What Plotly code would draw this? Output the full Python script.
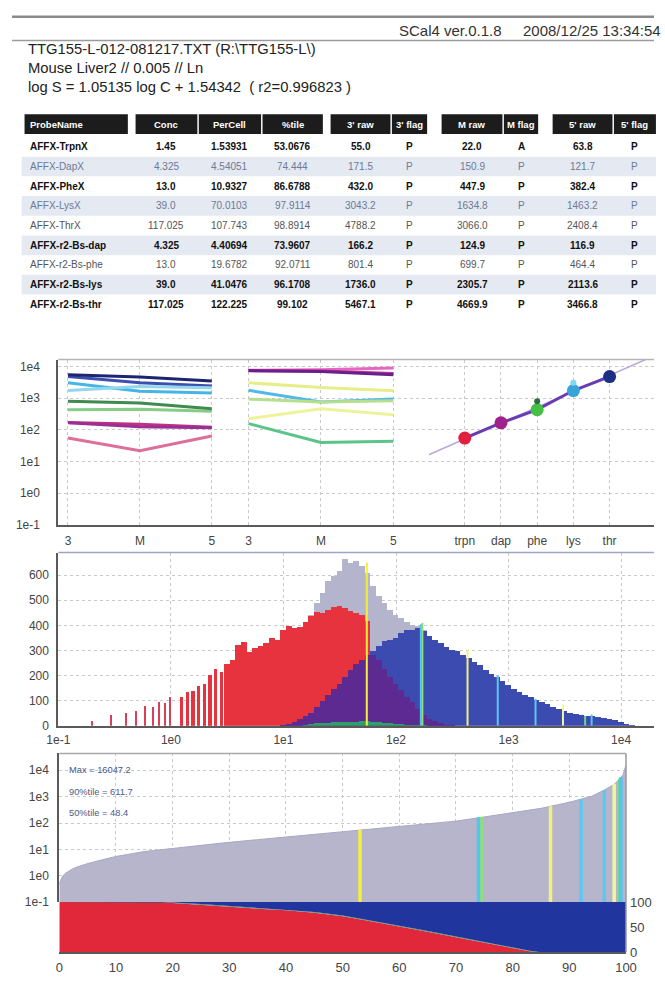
import numpy as np
import plotly.graph_objects as go

W, H = 665, 982
def X(px): return px / W
def Y(py): return 1 - py / H

# ---------------- header text ----------------
report_version = "SCal4 ver.0.1.8"
report_time = "2008/12/25 13:34:54"
file_line = "TTG155-L-012-081217.TXT (R:\\TTG155-L\\)"
sample_line = "Mouse Liver2 // 0.005 // Ln"
fit_slope = 1.05135
fit_intercept = 1.54342
fit_r2 = 0.996823

# ---------------- table ----------------
header_cols = ["ProbeName", "Conc", "PerCell", "%tile", "3' raw", "3' flag",
               "M raw", "M flag", "5' raw", "5' flag"]
probe_names = ["AFFX-TrpnX", "AFFX-DapX", "AFFX-PheX", "AFFX-LysX", "AFFX-ThrX",
               "AFFX-r2-Bs-dap", "AFFX-r2-Bs-phe", "AFFX-r2-Bs-lys", "AFFX-r2-Bs-thr"]
conc = ["1.45", "4.325", "13.0", "39.0", "117.025", "4.325", "13.0", "39.0", "117.025"]
percell = ["1.53931", "4.54051", "10.9327", "70.0103", "107.743", "4.40694", "19.6782", "41.0476", "122.225"]
pctile = [53.0676, 74.444, 86.6788, 97.9114, 98.8914, 73.9607, 92.0711, 96.1708, 99.102]
raw3 = [55.0, 171.5, 432.0, 3043.2, 4788.2, 166.2, 801.4, 1736.0, 5467.1]
flag3 = ["P", "P", "P", "P", "P", "P", "P", "P", "P"]
rawM = [22.0, 150.9, 447.9, 1634.8, 3066.0, 124.9, 699.7, 2305.7, 4669.9]
flagM = ["A", "P", "P", "P", "P", "P", "P", "P", "P"]
raw5 = [63.8, 121.7, 382.4, 1463.2, 2408.4, 116.9, 464.4, 2113.6, 3466.8]
flag5 = ["P", "P", "P", "P", "P", "P", "P", "P", "P"]

# ---------------- top panels ----------------
end_labels = ["3", "M", "5"]
# panel 2: other control probe sets (3', M, 5')
ctrl_3 = [7600, 7300, 7400, 3050, 1770, 930, 225, 157]
ctrl_M = [7800, 7200, 6900, 2150, 750, 750, 460, 40]
ctrl_5 = [8900, 6000, 5500, 1700, 930, 830, 300, 44]
# panel 3: spike-in series
spike_cats = ["trpn", "dap", "phe", "lys", "thr"]
spike_conc = [1.45, 4.325, 13.0, 39.0, 117.025]
spike_main = [55.0, 166.2, 432.0, 1736.0, 4788.2]
spike_extra_idx = [2, 3]
spike_extra = [801.4, 3043.2]
fit_conc_range = [0.4833, 351.1]

# ---------------- histogram (log10 bins, width 0.05) ----------------
hist_log_centers = np.round(np.arange(0.10, 4.101, 0.05), 3)
hist_absent = [115, 135, 140, 160, 170, 205, 230, 215, 250, 265, 325, 335, 295, 310, 320, 330, 350, 345,
               385, 400, 390, 395, 415, 440, 455, 450, 465, 475, 480, 470, 460, 450, 445, 420,
               285, 265, 230, 195, 170, 145, 115, 95, 70, 45, 30, 20, 12, 6, 3] + [0] * 32
hist_present = [0] * 18 + [3, 10, 18, 28, 40, 55, 75, 100, 125, 150,
                           170, 195, 225, 250, 265, 285, 300, 320, 340, 345,
                           350, 370, 385, 385, 390, 380, 360, 345, 330, 315,
                           305, 300, 285, 270, 255, 245, 225, 210, 195, 180,
                           165, 150, 135, 125, 115, 105, 95, 88, 78, 70,
                           60, 55, 50, 45, 42, 40, 36, 33, 28, 24, 18, 10, 3]
hist_total = [115, 135, 140, 160, 170, 205, 230, 215, 250, 265, 325, 335, 295, 310, 320, 330, 350, 345,
              385, 400, 390, 395, 415, 445, 490, 530, 580, 600, 620, 665, 650, 660, 640, 610,
              560, 520, 490, 465, 445, 430, 415, 405, 398, 385,
              360, 345, 330, 315, 305, 300, 285, 270, 255, 245, 225, 210, 195, 180,
              165, 150, 135, 125, 115, 105, 95, 88, 78, 70,
              60, 55, 50, 45, 42, 40, 36, 33, 28, 24, 18, 10, 3]
hist_marginal = [0] * 22 + [3, 8, 12, 14, 15, 16, 16, 17, 18, 18, 20, 20, 18, 16, 14, 12, 10, 8, 6, 5, 3, 2] + [0] * 37
low_values = [0.2, 0.3, 0.4, 0.5, 0.6, 0.7, 0.8, 0.9, 1.0]
low_counts = [22, 46, 52, 61, 81, 76, 98, 91, 115]
hist_marker_counts = [650, 410, 305, 85, 40, 405, 200, 108, 45]

# ---------------- sorted signal panel ----------------
sorted_pct = [0, 0.5, 1, 2, 3, 5, 7.5, 10, 15, 20, 25, 30, 35, 40, 45, 50, 55, 60, 65, 70,
              75, 80, 85, 90, 92, 94, 96, 97, 98, 99, 99.5, 100]
sorted_signal = [0.5, 0.89, 1.2, 1.66, 2.1, 2.9, 4.0, 5.4, 8.3, 11.0, 14.8, 18.6, 23.4, 29.5, 38.0, 48.4,
                 58.9, 72.4, 91.2, 118, 170, 240, 360, 611.7, 794, 1047, 1700, 2200, 3000, 5100, 7000, 16047.2]
max_signal = 16047.2
p90_signal = 611.7
p50_signal = 48.4
frac_pct = [0, 10, 18, 20, 25, 30, 35, 40, 45, 50, 55, 60, 65, 70, 75, 80, 83, 85, 100]
frac_absent = [100, 100, 100, 98, 95, 91, 87, 84, 79, 72, 62, 52, 41, 30, 19, 9, 2, 0, 0]
frac_marginal = [0, 0, 0, 1, 1.5, 1.5, 1.5, 1.5, 1.5, 1.5, 1.5, 1.5, 1.5, 1.5, 1.5, 1.5, 1, 0, 0]

# ---------------- styles ----------------
FONT = "Liberation Sans"
probe_colors = ["#de6f9c", "#c2307e", "#86cc86", "#45b4e6", "#3b4fae",
                "#9a2f96", "#3f8a4e", "#94d6ec", "#1d2573"]
ctrl_colors = ["#e468c0", "#c03090", "#6a1f8f", "#e6ee8a", "#52b8e6", "#b5df8e", "#eef29a", "#5cc488"]
spike_colors = ["#e0203c", "#a0208c", "#44c044", "#38a4d8", "#1f2f86"]
spike_extra_colors = ["#2e6b3a", "#80d8f0"]
marker_colors = ["#f4f03a", "#8ee07a", "#f2f080", "#f4f4a0", "#6ad890",
                 "#56c4ec", "#5cc8f0", "#5cc8f0", "#56c4ec"]
row_bold = [True, False, True, False, False, True, False, True, True]
row_color = ["#111", "#6c7a96", "#111", "#6c7a96", "#555", "#111", "#555", "#111", "#111"]
row_band = [False, True, False, True, False, True, False, True, False]

fig = go.Figure()

# ---- panel 1: spike-in 3'/M/5' ----
for i in range(len(probe_names)):
    fig.add_trace(go.Scatter(x=list(range(3)), y=[raw3[i], rawM[i], raw5[i]], mode="lines",
                             line=dict(color=probe_colors[i], width=3),
                             xaxis="x", yaxis="y", hoverinfo="skip"))
# ---- panel 2: controls ----
for i in range(len(ctrl_3)):
    fig.add_trace(go.Scatter(x=list(range(3)), y=[ctrl_3[i], ctrl_M[i], ctrl_5[i]], mode="lines",
                             line=dict(color=ctrl_colors[i], width=3),
                             xaxis="x2", yaxis="y", hoverinfo="skip"))
# ---- panel 3: spike-in linearity ----
fit_conc = np.array(fit_conc_range)
fit_x = np.log10(fit_conc / spike_conc[0]) / np.log10(3.0)
fit_y = 10 ** (fit_slope * np.log10(fit_conc) + fit_intercept)
fig.add_trace(go.Scatter(x=fit_x, y=fit_y, mode="lines", line=dict(color="#b9a8d8", width=1.5),
                         xaxis="x3", yaxis="y", hoverinfo="skip"))
fig.add_trace(go.Scatter(x=list(range(5)), y=spike_main, mode="lines",
                         line=dict(color="#6a3cb4", width=3), xaxis="x3", yaxis="y", hoverinfo="skip"))
fig.add_trace(go.Scatter(x=list(range(5)), y=spike_main, mode="markers",
                         marker=dict(color=spike_colors, size=13), xaxis="x3", yaxis="y", hoverinfo="skip"))
fig.add_trace(go.Scatter(x=spike_extra_idx, y=spike_extra, mode="markers",
                         marker=dict(color=spike_extra_colors, size=6), xaxis="x3", yaxis="y", hoverinfo="skip"))

# ---- histogram ----
bw = 0.05
# low-signal bins are quantised, so they are drawn as a comb of narrower bars
bar_w = [0.028 if c < 0.5 else bw for c in hist_log_centers]
fig.add_trace(go.Bar(x=hist_log_centers, y=hist_total, width=bar_w, marker=dict(color="#b4b4cc", line=dict(width=0)),
                     xaxis="x4", yaxis="y4", hoverinfo="skip"))
fig.add_trace(go.Bar(x=hist_log_centers, y=hist_absent, width=bar_w, marker=dict(color="#e6333d", line=dict(width=0)),
                     xaxis="x4", yaxis="y4", hoverinfo="skip"))
fig.add_trace(go.Bar(x=np.log10(low_values), y=low_counts, width=0.013, marker=dict(color="#d8405a", line=dict(width=0)),
                     xaxis="x4", yaxis="y4", hoverinfo="skip"))
fig.add_trace(go.Bar(x=hist_log_centers, y=hist_present, width=bar_w, marker=dict(color="#3b4bb0", line=dict(width=0)),
                     xaxis="x4", yaxis="y4", hoverinfo="skip"))
fig.add_trace(go.Bar(x=hist_log_centers, y=np.minimum(hist_absent, hist_present), width=bar_w,
                     marker=dict(color="#5c2a90", line=dict(width=0)),
                     xaxis="x4", yaxis="y4", hoverinfo="skip"))
fig.add_trace(go.Bar(x=hist_log_centers, y=hist_marginal, width=bar_w, marker=dict(color="#2fa06a", line=dict(width=0)),
                     xaxis="x4", yaxis="y4", hoverinfo="skip"))
for i in range(len(raw3)):
    lx = float(np.log10(raw3[i]))
    fig.add_trace(go.Scatter(x=[lx, lx], y=[0, hist_marker_counts[i]], mode="lines",
                             line=dict(color=marker_colors[i], width=2), xaxis="x4", yaxis="y4", hoverinfo="skip"))

# ---- sorted signal (upper) ----
fig.add_trace(go.Scatter(x=[0, 100], y=[0.1, 0.1], mode="lines", line=dict(width=0, color="#b6b4ca"),
                         xaxis="x6", yaxis="y5", hoverinfo="skip"))
fig.add_trace(go.Scatter(x=sorted_pct, y=sorted_signal, mode="lines", fill="tonexty",
                         fillcolor="#b7b5cb", line=dict(color="#a9a7c2", width=1),
                         xaxis="x6", yaxis="y5", hoverinfo="skip"))
for i in range(len(raw3)):
    fig.add_trace(go.Scatter(x=[pctile[i], pctile[i]], y=[0.1, raw3[i]], mode="lines",
                             line=dict(color=marker_colors[i], width=3.5), xaxis="x6", yaxis="y5", hoverinfo="skip"))

# ---- call fractions (lower) ----
frac_present = [100 - a - m for a, m in zip(frac_absent, frac_marginal)]
for vals, col in [(frac_absent, "#e0283a"), (frac_marginal, "#4a9a60"), (frac_present, "#20359e")]:
    fig.add_trace(go.Scatter(x=frac_pct, y=vals, mode="lines", stackgroup="frac",
                             line=dict(width=0, color=col), fillcolor=col,
                             xaxis="x5", yaxis="y6", hoverinfo="skip"))

# ---------------- axes ----------------
tickfont = dict(family=FONT, size=12, color="#444")
bigtick = dict(family=FONT, size=13, color="#444")
grid = dict(showgrid=True, gridcolor="#c9c9c9", griddash="dot", gridwidth=1, zeroline=False)
axline = dict(showline=True, linecolor="#5a5a5a", linewidth=2)
log_ticks = [0.1, 1, 10, 100, 1000, 10000]
log_text = ["1e-1", "1e0", "1e1", "1e2", "1e3", "1e4"]

top_dom_y = [Y(526), Y(358)]
fig.update_layout(
    width=W, height=H, margin=dict(l=0, r=0, t=0, b=0),
    paper_bgcolor="white", plot_bgcolor="white", showlegend=False, barmode="overlay", bargap=0,
    xaxis=dict(domain=[X(48), X(226)], range=[-0.134, 2.255], tickvals=[0, 1, 2], ticktext=end_labels,
               anchor="y", tickfont=tickfont, ticks="", ticklabelstandoff=4, **grid, **axline),
    xaxis2=dict(domain=[X(226), X(432)], range=[-0.253, 2.493], tickvals=[0, 1, 2], ticktext=end_labels,
                anchor="y", tickfont=tickfont, ticks="", ticklabelstandoff=4, **grid, **axline),
    xaxis3=dict(domain=[X(432), 1.0], range=[-0.987, 5.227], tickvals=list(range(5)), ticktext=spike_cats,
                anchor="y", tickfont=tickfont, ticks="", ticklabelstandoff=4, **grid, **axline),
    yaxis=dict(domain=top_dom_y, type="log", range=[-1, 4.217], tickvals=log_ticks, ticktext=log_text,
               anchor="x", tickfont=tickfont, ticks="", ticklabelstandoff=14, **grid, **axline),
    xaxis4=dict(domain=[X(48), 1.0], range=[-1, 4.292], tickvals=[-1, 0, 1, 2, 3, 4], ticktext=log_text,
                anchor="y4", tickfont=tickfont, ticks="", ticklabelstandoff=2, **grid, **axline),
    yaxis4=dict(domain=[Y(730), Y(554)], range=[0, 690], tickvals=[0, 100, 200, 300, 400, 500, 600],
                anchor="x4", tickfont=tickfont, ticks="", ticklabelstandoff=5, **grid, **axline),
    xaxis5=dict(domain=[X(49), X(636)], range=[0, 100], tickvals=list(range(0, 101, 10)),
                anchor="y6", tickfont=bigtick, ticks="",
                ticklabelstandoff=2, showgrid=False, zeroline=False, **axline),
    xaxis6=dict(domain=[X(49), X(636)], range=[0, 100], tickvals=list(range(0, 101, 10)),
                anchor="y5", showticklabels=False, ticks="", **grid),
    yaxis5=dict(domain=[Y(909), Y(758)], type="log", range=[-1, 4.64], tickvals=log_ticks, ticktext=log_text,
                anchor="x6", tickfont=tickfont, ticks="", ticklabelstandoff=6, **grid, **axline),
    yaxis6=dict(domain=[Y(960), Y(909)], range=[0, 100], tickvals=[0, 50, 100], side="right",
                anchor="x5", tickfont=bigtick, ticks="",
                ticklabelstandoff=3, showgrid=False, zeroline=False),
)

# ---------------- shapes & annotations ----------------
shapes = []
annots = []
def line(x0, y0, x1, y1, color, width):
    shapes.append(dict(type="line", xref="paper", yref="paper", x0=X(x0), y0=Y(y0), x1=X(x1), y1=Y(y1),
                       line=dict(color=color, width=width)))
def rect(x0, y0, x1, y1, fill, lc=None, lw=0):
    shapes.append(dict(type="rect", xref="paper", yref="paper", x0=X(x0), y0=Y(y0), x1=X(x1), y1=Y(y1),
                       fillcolor=fill, line=dict(color=lc or fill, width=lw), layer="below"))
def text(x, y, s, size, color="#222", anchor="left", bold=False):
    annots.append(dict(xref="paper", yref="paper", x=X(x), y=Y(y), text=("<b>%s</b>" % s) if bold else s,
                       showarrow=False, xanchor=anchor, yanchor="middle",
                       font=dict(family=FONT, size=size, color=color)))

# report header
line(0, 10, 665, 10, "#8a8a8a", 2.5)
line(0, 34, 665, 34, "#9a9a9a", 1.5)
text(399, 24, report_version, 15, "#333")
text(527, 24, report_time, 15, "#333")
text(14, 43, file_line, 14.8, "#222")
text(14, 62, sample_line, 14.8, "#222")
text(14, 81, "log S = %s log C + %s \u00a0( r2=%s )" % (fit_slope, fit_intercept, fit_r2), 14.8, "#222")

# table
col_bounds = [(13, 120), (128, 192), (193.5, 258), (259.5, 322), (330, 392), (393.5, 430),
              (445, 508), (509.5, 545), (560, 622), (623.5, 667)]
columns = [probe_names, conc, percell, ["%g" % v for v in pctile],
           ["%.1f" % v for v in raw3], flag3, ["%.1f" % v for v in rawM], flagM,
           ["%.1f" % v for v in raw5], flag5]
ROW0, ROWH = 142, 20
for r in range(len(probe_names)):
    if row_band[r]:
        rect(10, ROW0 - 10 + ROWH * r, 667, ROW0 + 10 + ROWH * r, "#e4e9f2")
for c, (x0, x1) in enumerate(col_bounds):
    rect(x0, 109, x1, 129, "#1c1c1c")
    if c == 0:
        text(x0 + 4, 119, header_cols[c], 9.5, "white", "left", True)
    else:
        text((x0 + x1) / 2, 119, header_cols[c], 9.5, "white", "center", True)
    for r in range(len(probe_names)):
        yc = ROW0 + ROWH * r
        if c == 0:
            text(x0 + 4, yc, columns[c][r], 10, row_color[r], "left", row_bold[r])
        else:
            text((x0 + x1) / 2, yc, columns[c][r], 10, row_color[r], "center", row_bold[r])

# panel frames
line(48, 358, 665, 358, "#b5b5b5", 1.5)
line(48, 554, 665, 554, "#a0a4c4", 1.5)
line(49, 758, 636, 758, "#a8a8a8", 1.5)
line(636, 758, 636, 960, "#9a9a9a", 1.5)

# summary notes in sorted panel
text(57, 775, "Max = %s" % max_signal, 9.3, "#4a5a8a")
text(57, 797, "90%%tile = %s" % p90_signal, 9.3, "#4a5a8a")
text(57, 818, "50%%tile = %s" % p50_signal, 9.3, "#4a5a8a")

fig.update_layout(shapes=shapes, annotations=annots)
fig.write_html("out.html", config={"displayModeBar": False},
               post_script="document.body.style.margin='0';document.body.style.overflow='hidden';")
